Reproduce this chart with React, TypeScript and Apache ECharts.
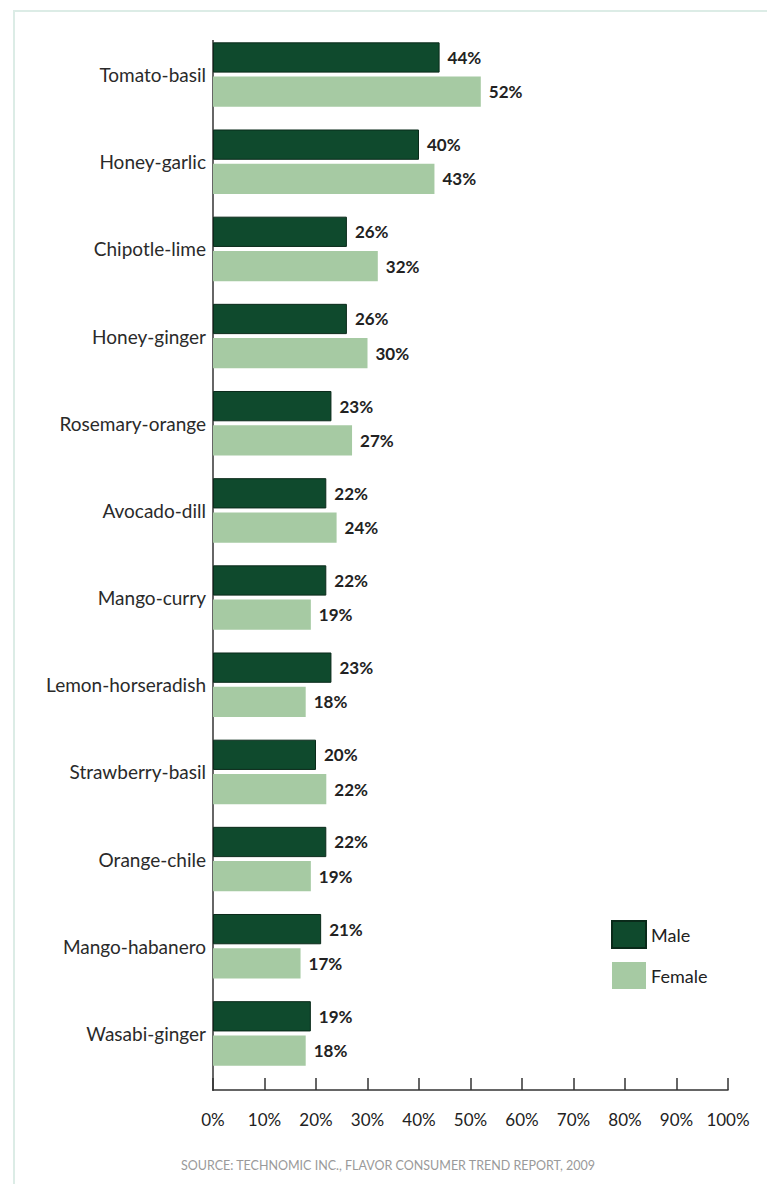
import React, { useEffect, useRef } from "react";
import * as echarts from "echarts";

const categories = [
  "Tomato-basil",
  "Honey-garlic",
  "Chipotle-lime",
  "Honey-ginger",
  "Rosemary-orange",
  "Avocado-dill",
  "Mango-curry",
  "Lemon-horseradish",
  "Strawberry-basil",
  "Orange-chile",
  "Mango-habanero",
  "Wasabi-ginger",
];
const maleValues = [44, 40, 26, 26, 23, 22, 22, 23, 20, 22, 21, 19];
const femaleValues = [52, 43, 32, 30, 27, 24, 19, 18, 22, 19, 17, 18];
const sourceText = "SOURCE: TECHNOMIC INC., FLAVOR CONSUMER TREND REPORT, 2009";

const MALE = "#0f4a2d";
const FEMALE = "#a6caa3";
const FONT = "Lato, 'Open Sans', sans-serif";

export default function App() {
  const ref = useRef<HTMLDivElement>(null);
  useEffect(() => {
    if (!ref.current) return;
    const chart = echarts.init(ref.current, undefined, { renderer: "svg" });
    const labelStyle = {
      show: true,
      position: "right" as const,
      distance: 8,
      formatter: "{c}%",
      color: "#222",
      fontSize: 17,
      fontWeight: "bold" as const,
      fontFamily: FONT,
    };
    chart.setOption({
      animation: false,
      backgroundColor: "#ffffff",
      grid: { left: 213, right: 39, top: 31, bottom: 107 },
      legend: {
        orient: "vertical",
        left: 606,
        top: 915,
        itemWidth: 34,
        itemHeight: 27,
        itemGap: 13,
        icon: "rect",
        textStyle: { fontSize: 18, color: "#222", fontFamily: FONT },
        data: ["Male", "Female"],
      },
      xAxis: {
        type: "value",
        min: 0,
        max: 100,
        interval: 10,
        offset: 13,
        axisLine: { show: true, lineStyle: { color: "#333", width: 1.5 } },
        axisTick: { show: true, inside: true, length: 12, lineStyle: { color: "#333", width: 1.5 } },
        splitLine: { show: false },
        axisLabel: {
          formatter: "{value}%",
          fontSize: 17,
          color: "#222",
          margin: 21,
          fontFamily: FONT,
        },
      },
      yAxis: {
        type: "category",
        data: categories,
        inverse: true,
        axisLine: { show: false },
        axisTick: { show: false },
        axisLabel: { fontSize: 19, color: "#2a2a2a", margin: 7, fontFamily: FONT },
      },
      series: [
        {
          name: "Male",
          type: "bar",
          data: maleValues,
          barCategoryGap: "26%",
          barGap: "13%",
          itemStyle: { color: MALE, borderColor: "#0a2a1a", borderWidth: 1 },
          label: labelStyle,
        },
        {
          name: "Female",
          type: "bar",
          data: femaleValues,
          itemStyle: { color: FEMALE },
          label: labelStyle,
        },
      ],
      graphic: [
        {
          type: "rect",
          shape: { x: 14, y: 11, width: 800, height: 1300 },
          style: { fill: "none", stroke: "#dcece6", lineWidth: 2 },
          silent: true,
        },
        {
          type: "line",
          shape: { x1: 213, y1: 40, x2: 213, y2: 1091 },
          style: { stroke: "#333", lineWidth: 1.5 },
          silent: true,
        },
        {
          type: "text",
          x: 388,
          y: 1165,
          style: {
            text: sourceText,
            fill: "#9a9a9a",
            fontSize: 12.5,
            fontFamily: FONT,
            align: "center",
            verticalAlign: "middle",
          },
          silent: true,
        },
      ],
    });
    return () => chart.dispose();
  }, []);
  return (
    <div
      ref={ref}
      style={{ position: "fixed", left: 0, top: 0, width: 767, height: 1184 }}
    />
  );
}
